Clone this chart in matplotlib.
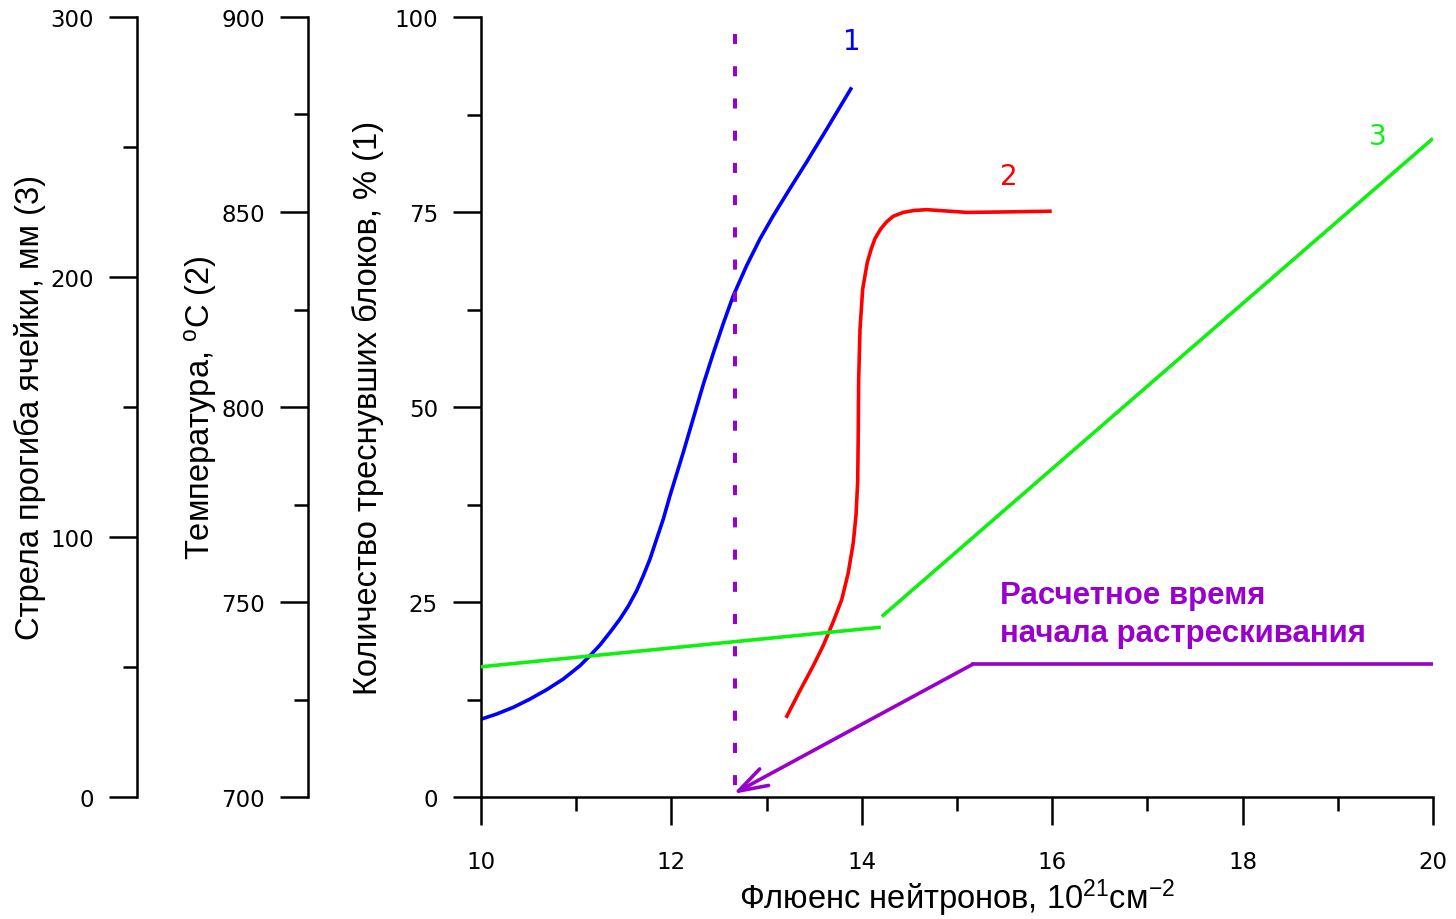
import matplotlib
matplotlib.use("Agg")
import matplotlib.pyplot as plt
from matplotlib.ticker import MultipleLocator

plt.rcParams['font.family'] = ['Liberation Sans', 'DejaVu Sans']
plt.rcParams['mathtext.fontset'] = 'custom'
plt.rcParams['mathtext.rm'] = 'Liberation Sans'
plt.rcParams['mathtext.default'] = 'rm'

# curve 1: share of cracked blocks, %
crack_x = [10.007, 10.165, 10.34, 10.515, 10.69, 10.865, 11.04, 11.145, 11.25,
           11.355, 11.46, 11.55, 11.635, 11.705, 11.775, 11.845, 11.915, 11.985,
           12.055, 12.125, 12.195, 12.265, 12.335, 12.44, 12.545, 12.65, 12.79,
           12.93, 13.07, 13.245, 13.42, 13.63, 13.894]
crack_y = [10.0, 10.64, 11.5, 12.56, 13.76, 15.13, 16.84, 18.12, 19.49,
           21.11, 22.82, 24.53, 26.45, 28.38, 30.51, 33.08, 35.64, 38.63,
           41.41, 44.19, 47.1, 50.0, 52.9, 56.9, 60.7, 64.27, 68.12,
           71.54, 74.53, 78.0, 81.4, 85.6, 90.98]

# curve 2: temperature, deg C
temp_x = [13.204, 13.351, 13.491, 13.596, 13.701, 13.789, 13.858, 13.911,
          13.939, 13.957, 13.963, 13.967, 13.981, 14.009, 14.058, 14.10,
          14.139, 14.20, 14.262, 14.33, 14.436, 14.55, 14.682, 15.102, 15.452,
          15.995]
temp_y = [720.3, 727.3, 733.7, 738.9, 745.0, 750.6, 757.5, 765.3,
          772.2, 780.9, 793.8, 806.8, 819.8, 830.2, 837.1, 840.6,
          843.2, 845.7, 847.5, 848.9, 849.9, 850.4, 850.6, 849.9, 850.0,
          850.2]

# curve 3: cell deflection, mm (two straight pieces)
defl1_x = [10.0, 14.2]
defl1_y = [50.1, 65.3]
defl2_x = [14.21, 20.0]
defl2_y = [69.4, 253.3]

# estimated onset of cracking
onset_x = 12.67
pointer_x = [20.0, 15.17]
pointer_y = [17.05, 17.05]

blue = '#0000ff'
red = '#ff0000'
green = '#10f010'
purple = '#9900cc'

fig = plt.figure(figsize=(14.56, 9.2), dpi=100)
ax = fig.add_axes([481 / 1456, 1 - 798 / 920, 952 / 1456, 780 / 920])
ax_t = ax.twinx()
ax_d = ax.twinx()

for a in (ax, ax_t, ax_d):
    for s in ('top', 'right'):
        a.spines[s].set_visible(False)
    a.spines['left'].set_linewidth(1.8)
    a.yaxis.set_ticks_position('left')
    a.yaxis.set_label_position('left')
    a.tick_params(axis='y', which='major', length=20, width=1.8, pad=11,
                  labelsize=16.5, labelfontfamily='DejaVu Sans')
    a.tick_params(axis='y', which='minor', length=10, width=1.8)
for a in (ax_t, ax_d):
    a.spines['bottom'].set_visible(False)
ax.spines['bottom'].set_linewidth(1.8)
ax_t.spines['left'].set_position(('axes', (308 - 481) / 952))
ax_d.spines['left'].set_position(('axes', (137 - 481) / 952))

ax.set_xlim(10, 20)
ax.set_ylim(0, 100)
ax_t.set_ylim(700, 900)
ax_d.set_ylim(0, 300)

ax.xaxis.set_major_locator(MultipleLocator(2))
ax.xaxis.set_minor_locator(MultipleLocator(1))
ax.yaxis.set_major_locator(MultipleLocator(25))
ax.yaxis.set_minor_locator(MultipleLocator(12.5))
ax_t.yaxis.set_major_locator(MultipleLocator(50))
ax_t.yaxis.set_minor_locator(MultipleLocator(25))
ax_d.yaxis.set_major_locator(MultipleLocator(100))
ax_d.yaxis.set_minor_locator(MultipleLocator(50))
ax.tick_params(axis='x', which='major', length=20, width=1.8, pad=18,
               labelsize=16.5, labelfontfamily='DejaVu Sans')
ax.tick_params(axis='x', which='minor', length=10, width=1.8)

ax.set_xlabel('Флюенс нейтронов, $10^{21}$см$^{-2}$', fontsize=23.5, va='center')
ax.xaxis.set_label_coords(0.5, (798 - 898) / 780)
ax.set_ylabel('Количество треснувших блоков, % (1)', fontsize=23.5, va='center')
ax.yaxis.set_label_coords((368 - 481) / 952, 0.5)
ax_t.set_ylabel('Температура, $^{o}$C (2)', fontsize=23.5, va='center')
ax_t.yaxis.set_label_coords((200 - 481) / 952, 0.5)
ax_d.set_ylabel('Стрела прогиба ячейки, мм (3)', fontsize=23.5, va='center')
ax_d.yaxis.set_label_coords((30 - 481) / 952, 0.5)

ax.plot(crack_x, crack_y, color=blue, lw=2.6, solid_capstyle='butt')
ax_t.plot(temp_x, temp_y, color=red, lw=2.6, solid_capstyle='butt')
ax_d.plot(defl1_x, defl1_y, color=green, lw=2.6, solid_capstyle='butt')
ax_d.plot(defl2_x, defl2_y, color=green, lw=2.6, solid_capstyle='butt')

# dashed marker of the onset, drawn top-down so the first dash sits at the top
ax.plot([onset_x, onset_x], [97.8, 0], color=purple, lw=2.9,
        dashes=(2.5, 5.5), clip_on=False)
ax.plot(pointer_x, pointer_y, color=purple, lw=2.6)
ax.annotate('', xy=(onset_x - 0.02, 0.4), xytext=(pointer_x[1], pointer_y[1]),
            arrowprops=dict(arrowstyle='->,head_length=1.4,head_width=0.45',
                            color=purple, lw=2.6, mutation_scale=15,
                            shrinkA=0, shrinkB=0))
ax.text(15.45, 20.04, 'Расчетное время\nначала растрескивания', color=purple,
        fontsize=22.5, fontweight='bold', ha='left', va='baseline', linespacing=1.35)

ax.text(13.89, 96.9, '1', color=blue, fontsize=20, family='DejaVu Sans',
        ha='center', va='center')
ax.text(15.54, 79.6, '2', color=red, fontsize=20, family='DejaVu Sans',
        ha='center', va='center')
ax.text(19.42, 84.8, '3', color=green, fontsize=20, family='DejaVu Sans',
        ha='center', va='center')

fig.savefig('out.png', dpi=100)
